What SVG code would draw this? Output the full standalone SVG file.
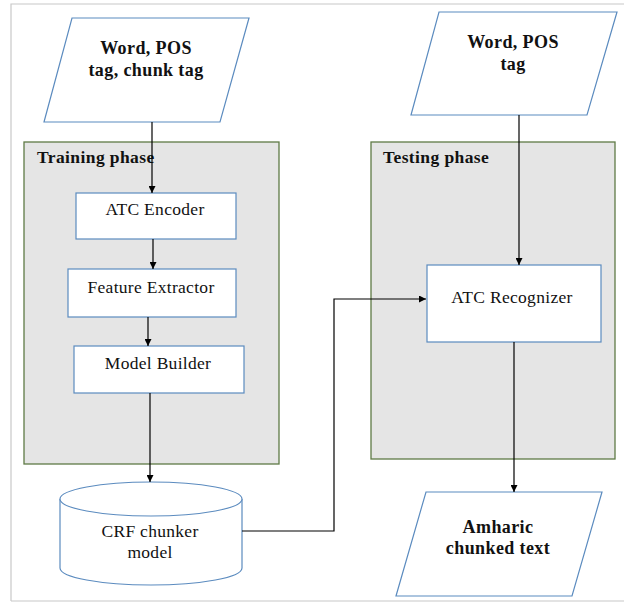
<svg xmlns="http://www.w3.org/2000/svg" width="625" height="602" viewBox="0 0 625 602">
<defs>
<marker id="ah" viewBox="0 0 10 10" refX="10" refY="5" markerWidth="7" markerHeight="7" markerUnits="userSpaceOnUse" orient="auto">
<path d="M0,0 L10,5 L0,10 z" fill="#000"/>
</marker>
<style>
.phase{fill:#e5e5e5;stroke:#5f7a45;stroke-width:1.3}
.box{fill:#fff;stroke:#5b8bbf;stroke-width:1.2}
.io{fill:#fff;stroke:#5b8bbf;stroke-width:1.2}
text{font-family:'Liberation Serif','Times New Roman','DejaVu Serif',serif;fill:#111}
.t{font-size:17.5px;text-anchor:middle;letter-spacing:0.3px}
.b{font-size:18px;font-weight:bold;text-anchor:middle;letter-spacing:0.4px}
.ph{font-size:17.5px;font-weight:bold;letter-spacing:0.4px}
.c{fill:none;stroke:#000;stroke-width:1.2}
</style>
</defs>
<rect width="625" height="602" fill="#fff"/>
<path d="M11,601 V4 H624 M11,601 H624" fill="none" stroke="#c8c8c8" stroke-width="1.2"/>

<g id="training-phase">
<rect class="phase" x="24" y="142" width="255" height="322"/>
<text class="ph" x="37" y="163">Training phase</text>
</g>
<g id="testing-phase">
<rect class="phase" x="371" y="142" width="244" height="317"/>
<text class="ph" x="383" y="163">Testing phase</text>
</g>

<g id="input-train">
<polygon class="io" points="72,18 249,18 220,122 44,122"/>
<text class="b" x="146" y="54">Word, POS</text>
<text class="b" x="146" y="76">tag, chunk tag</text>
</g>
<g id="input-test">
<polygon class="io" points="439,12 617,12 587,115 411,115"/>
<text class="b" x="513" y="48">Word, POS</text>
<text class="b" x="513" y="70">tag</text>
</g>
<g id="atc-encoder">
<rect class="box" x="76" y="193" width="160" height="46"/>
<text class="t" x="155" y="215">ATC Encoder</text>
</g>
<g id="feature-extractor">
<rect class="box" x="68" y="269" width="168" height="48"/>
<text class="t" x="151" y="293">Feature Extractor</text>
</g>
<g id="model-builder">
<rect class="box" x="74" y="346" width="170" height="47"/>
<text class="t" x="158" y="369">Model Builder</text>
</g>
<g id="crf-model">
<path class="io" d="M60,499 A91,17 0 0 1 242,499 V568 A91,17 0 0 1 60,568 Z"/>
<path class="io" d="M60,499 A91,17 0 0 0 242,499" fill="none"/>
<text class="t" x="150" y="537">CRF chunker</text>
<text class="t" x="150" y="558">model</text>
</g>
<g id="atc-recognizer">
<rect class="box" x="427" y="265" width="174" height="77"/>
<text class="t" x="512" y="303">ATC Recognizer</text>
</g>
<g id="output">
<polygon class="io" points="426,492 602,492 572,596 396,596"/>
<text class="b" x="498" y="533">Amharic</text>
<text class="b" x="498" y="554">chunked text</text>
</g>

<g id="connectors">
<line class="c" x1="152" y1="122" x2="152" y2="193" marker-end="url(#ah)"/>
<line class="c" x1="153" y1="239" x2="153" y2="269" marker-end="url(#ah)"/>
<line class="c" x1="148" y1="317" x2="148" y2="346" marker-end="url(#ah)"/>
<line class="c" x1="150" y1="393" x2="150" y2="482" marker-end="url(#ah)"/>
<polyline class="c" points="242,531 334,531 334,299 426,299" marker-end="url(#ah)"/>
<line class="c" x1="519" y1="115" x2="519" y2="265" marker-end="url(#ah)"/>
<line class="c" x1="514" y1="342" x2="514" y2="492" marker-end="url(#ah)"/>
</g>
</svg>
